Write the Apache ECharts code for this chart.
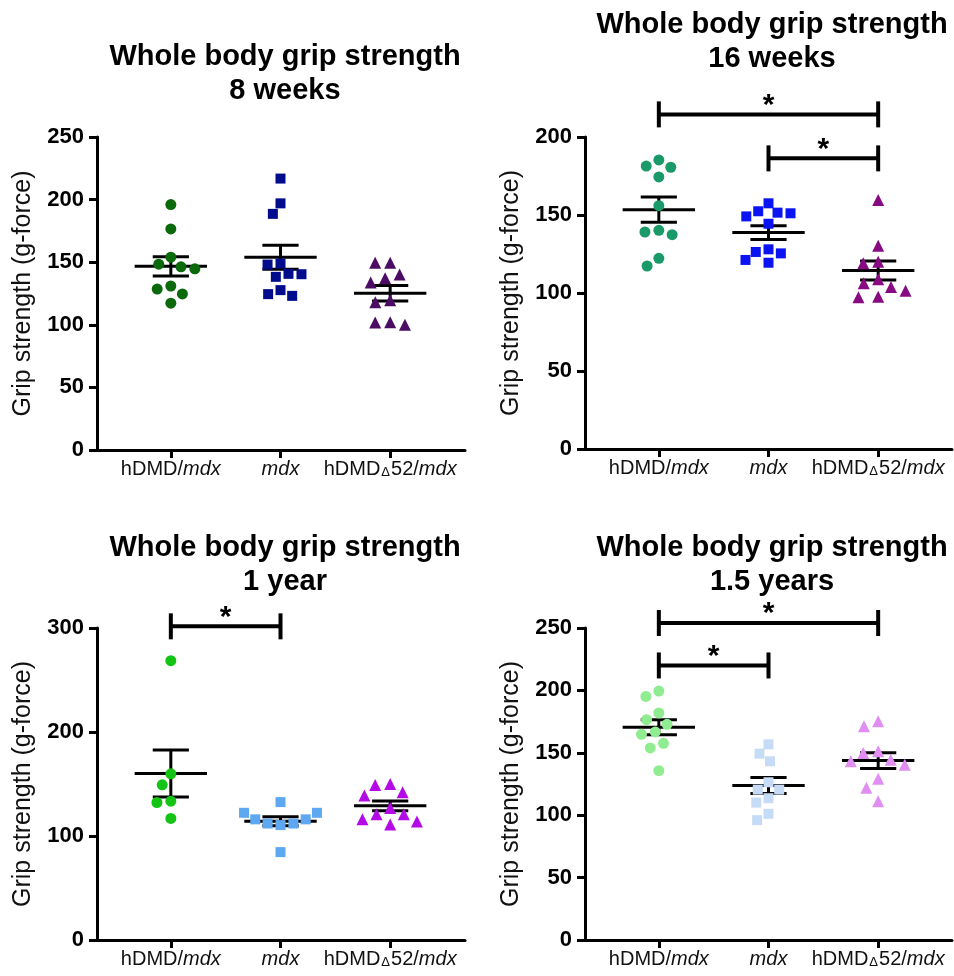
<!DOCTYPE html>
<html>
<head>
<meta charset="utf-8">
<script src="https://cdn.jsdelivr.net/npm/echarts@6/dist/echarts.min.js"></script>
<style>
html, body { margin: 0; padding: 0; background: #fff; }
#chart { width: 954px; height: 976px; }
</style>
</head>
<body>
<div id="chart"></div>
<script>
// groups on the x axis
var categories = ['hDMD/mdx', 'mdx', 'hDMDΔ52/mdx'];

// grip strength (g-force)
var w8Hdmd = [196, 176.6, 154, 148.4, 146.3, 144.7, 131, 128.5, 124.7, 117.3];
var w8Mdx = [216.8, 197, 188.6, 148.9, 148.1, 140.7, 140.4, 138.3, 127.7, 124.5, 123.1];
var w8D52 = [149.5, 149.5, 140.2, 137.2, 133.8, 119.7, 118.1, 102.1, 101.9, 100];

var w16Hdmd = [185.3, 181.4, 180.6, 174.4, 156, 140.2, 139.1, 137.4, 122.2, 117.3];
var w16Mdx = [157.5, 152.4, 151.5, 151.1, 149.1, 144.4, 128, 126.3, 125.4, 121.2, 119.4];
var w16D52 = [159.6, 130.3, 120, 119, 108.8, 106.2, 103.8, 101.5, 97.6, 97.2];

var y1Hdmd = [268.6, 159.8, 149.2, 133.5, 132.2, 116.9];
var y1Mdx = [132.6, 110.5, 112, 112, 116, 116, 122.3, 122.3, 84.5];
var y1D52 = [150, 149, 142, 139, 127, 121, 121, 116, 114, 111];

var y15Hdmd = [199.5, 195.2, 181.9, 176.5, 172.8, 166.7, 164.8, 157.6, 153.9, 135.7];
var y15Mdx = [156.8, 149.3, 143.2, 126.4, 120.5, 120.5, 113.6, 110.1, 101.1, 96];
var y15D52 = [175.2, 171.2, 151.2, 149.9, 144.5, 143.2, 140.5, 129.3, 121.9, 111.2];

// significance brackets: [from group, to group, height]
var w16Sig = [[0, 2, 214.5], [1, 2, 186.3]];
var y1Sig = [[0, 1, 301.6]];
var y15Sig = [[0, 2, 254], [0, 1, 220]];

var FONT = '"Liberation Sans", Arial, sans-serif';
var symbols = ['circle', 'rect', 'triangle'];
var symSizes = [11, 10, 12];

var panels = [
	{title: 'Whole body grip strength\n8 weeks', groups: [w8Hdmd, w8Mdx, w8D52], sig: [],
	 colors: ['#0a690a', '#000c8c', '#4a0d63'], max: 250, interval: 50,
	 left: 97, top: 137, width: 368, height: 313, titleX: 280, titleTop: 35},
	{title: 'Whole body grip strength\n16 weeks', groups: [w16Hdmd, w16Mdx, w16D52], sig: w16Sig,
	 colors: ['#1a9a68', '#0a14f2', '#880a82'], max: 200, interval: 50,
	 left: 585, top: 137, width: 367, height: 312, titleX: 767, titleTop: 3},
	{title: 'Whole body grip strength\n1 year', groups: [y1Hdmd, y1Mdx, y1D52], sig: y1Sig,
	 colors: ['#14c414', '#5ea8f2', '#b40ae8'], max: 300, interval: 100,
	 left: 97, top: 628, width: 368, height: 312, titleX: 280, titleTop: 526},
	{title: 'Whole body grip strength\n1.5 years', groups: [y15Hdmd, y15Mdx, y15D52], sig: y15Sig,
	 colors: ['#90ec90', '#c6dcf6', '#e08ef2'], max: 250, interval: 50,
	 left: 585, top: 628, width: 367, height: 312, titleX: 767, titleTop: 526}
];

function meanSem(arr) {
	var n = arr.length, s = 0, i;
	for (i = 0; i < n; i++) s += arr[i];
	var m = s / n, ss = 0;
	for (i = 0; i < n; i++) ss += (arr[i] - m) * (arr[i] - m);
	return [m, Math.sqrt(ss / (n - 1)) / Math.sqrt(n)];
}

function catLabel(v) {
	if (v === 'mdx') return '{i|mdx}';
	if (v === 'hDMD/mdx') return '{n|hDMD/}{i|mdx}';
	return '{n|hDMD}{d|Δ}{n|52/}{i|mdx}';
}

function renderErr(params, api) {
	var c = api.coord([api.value(0), api.value(1)]);
	var hi = api.coord([api.value(0), api.value(1) + api.value(2)]);
	var lo = api.coord([api.value(0), api.value(1) - api.value(2)]);
	var band = api.size([1, 0])[0];
	var w = band * 0.33, cw = band * 0.165;
	var st = {stroke: '#000', lineWidth: 3};
	return {
		type: 'group',
		children: [
			{type: 'line', shape: {x1: c[0] - w, y1: c[1], x2: c[0] + w, y2: c[1]}, style: st},
			{type: 'line', shape: {x1: c[0], y1: hi[1], x2: c[0], y2: lo[1]}, style: st},
			{type: 'line', shape: {x1: c[0] - cw, y1: hi[1], x2: c[0] + cw, y2: hi[1]}, style: st},
			{type: 'line', shape: {x1: c[0] - cw, y1: lo[1], x2: c[0] + cw, y2: lo[1]}, style: st}
		]
	};
}

function renderSig(params, api) {
	var a = api.coord([api.value(0), api.value(2)]);
	var b = api.coord([api.value(1), api.value(2)]);
	var st = {stroke: '#000', lineWidth: 4};
	return {
		type: 'group',
		children: [
			{type: 'line', shape: {x1: a[0], y1: a[1], x2: b[0], y2: b[1]}, style: st},
			{type: 'line', shape: {x1: a[0], y1: a[1] - 13, x2: a[0], y2: a[1] + 13}, style: st},
			{type: 'line', shape: {x1: b[0], y1: b[1] - 13, x2: b[0], y2: b[1] + 13}, style: st},
			{type: 'text', style: {text: '*', x: (a[0] + b[0]) / 2, y: a[1] + 6,
				textAlign: 'center', textVerticalAlign: 'bottom',
				font: 'bold 30px ' + FONT, fill: '#000'}}
		]
	};
}

var option = {
	backgroundColor: '#fff',
	animation: false,
	title: [],
	grid: [],
	xAxis: [],
	yAxis: [],
	series: []
};

panels.forEach(function (p, k) {
	var fi = 2 * k, di = 2 * k + 1;
	option.title.push({
		text: p.title, left: p.titleX, top: p.titleTop, textAlign: 'center',
		textStyle: {fontFamily: FONT, fontSize: 29, fontWeight: 'bold', color: '#000', lineHeight: 34}
	});
	option.grid.push({left: p.left, top: p.top, width: p.width, height: p.height});
	option.grid.push({left: p.left + 19, top: p.top, width: 329, height: p.height});
	// frame axes
	option.xAxis.push({
		gridIndex: fi, type: 'value', min: 0, max: 1,
		axisLine: {show: true, lineStyle: {color: '#000', width: 3}},
		axisTick: {show: false}, axisLabel: {show: false}, splitLine: {show: false}
	});
	option.yAxis.push({
		gridIndex: fi, type: 'value', min: 0, max: p.max, interval: p.interval,
		name: 'Grip strength (g-force)', nameLocation: 'middle', nameGap: 61,
		nameTextStyle: {fontFamily: FONT, fontSize: 25, color: '#111'},
		axisLine: {show: true, lineStyle: {color: '#000', width: 3}},
		axisTick: {show: true, length: 8, lineStyle: {color: '#000', width: 3}},
		axisLabel: {fontFamily: FONT, fontSize: 22, fontWeight: 'bold', color: '#000', margin: 13},
		splitLine: {show: false}
	});
	// data axes
	option.xAxis.push({
		gridIndex: di, type: 'category', data: categories,
		jitter: 100, jitterOverlap: false, jitterMargin: 3,
		axisLine: {show: false},
		axisTick: {show: true, alignWithLabel: true, length: 8, lineStyle: {color: '#000', width: 3}},
		axisLabel: {
			margin: 9, formatter: catLabel, interval: 0,
			rich: {
				n: {fontFamily: FONT, fontSize: 20, color: '#111'},
				i: {fontFamily: FONT, fontSize: 20, color: '#111', fontStyle: 'italic'},
				d: {fontFamily: FONT, fontSize: 13, color: '#111', verticalAlign: 'bottom', padding: [6, 1, 0, 1]}
			}
		}
	});
	option.yAxis.push({gridIndex: di, type: 'value', min: 0, max: p.max, show: false});

	var stats = p.groups.map(function (g, i) {
		var ms = meanSem(g);
		return [i, ms[0], ms[1]];
	});
	option.series.push({
		type: 'custom', xAxisIndex: di, yAxisIndex: di, z: 2,
		renderItem: renderErr, data: stats, silent: true
	});
	p.groups.forEach(function (g, i) {
		option.series.push({
			type: 'scatter', xAxisIndex: di, yAxisIndex: di, z: 3,
			symbol: symbols[i], symbolSize: symSizes[i],
			itemStyle: {color: p.colors[i], opacity: 1},
			data: g.map(function (v) { return [i, v]; })
		});
	});
	if (p.sig.length) {
		option.series.push({
			type: 'custom', xAxisIndex: di, yAxisIndex: di, z: 4, clip: false,
			renderItem: renderSig, data: p.sig, silent: true
		});
	}
});

var chart = echarts.init(document.getElementById('chart'), null, {renderer: 'canvas'});
chart.setOption(option);
</script>
</body>
</html>
